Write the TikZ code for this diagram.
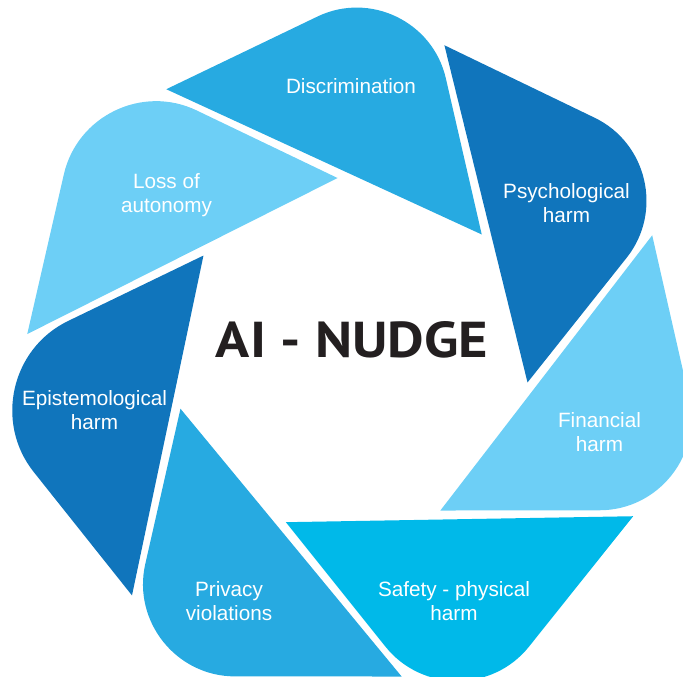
\documentclass[tikz,border=0pt]{standalone}
\usepackage{graphicx}
\usepackage{fontspec}
\setmainfont{Liberation Sans}
\newfontfamily\titlefont{PT Sans}
\usetikzlibrary{calc}
\definecolor{cMed}{HTML}{27AAE1}
\definecolor{cDark}{HTML}{1075BC}
\definecolor{cLight}{HTML}{6DCFF6}
\definecolor{cCyan}{HTML}{00B9E9}
\definecolor{cTxt}{HTML}{231F20}
\newcommand\twolines[2]{\begin{tabular}[t]{@{}c@{}}#1\\#2\end{tabular}}
\begin{document}
\begin{tikzpicture}[x=1pt,y=-1pt,
  lbl/.style={text=white,inner sep=0pt,anchor=base,font=\fontsize{20.7}{24}\selectfont},
  ttl/.style={text=cTxt,inner sep=0pt}]
\useasboundingbox (0,0) rectangle (683,677);
\clip (0,0) rectangle (683,677);
\coordinate (C) at (351,356);
\foreach \k/\col/\t in {0/cMed/114,1/cDark/115,2/cLight/115,3/cCyan/115,4/cMed/115,5/cDark/124,6/cLight/118}{
  \pgfmathsetmacro\th{-79.9+51.43*\k}
  \pgfmathsetmacro\ta{\th-44.8}
  \pgfmathsetmacro\tq{\th+37}
  \coordinate (V) at ($(C)+(\th:395)$);
  \coordinate (A) at ($(C)+(\ta:324.5)$);
  \coordinate (Q) at ($(C)+(\tq:178.5)$);
  \coordinate (T1) at ($(V)!\t pt!(A)$);
  \coordinate (T2) at ($(V)!\t pt!(Q)$);
  \coordinate (K1) at ($(T1)!0.51!(V)$);
  \coordinate (K2) at ($(T2)!0.51!(V)$);
  \fill[\col] (A) -- (T1) .. controls (K1) and (K2) .. (T2) -- (Q) -- cycle;
}
\node[lbl] (disc) at (351,94) {Discrimination};
\node[lbl] (loss) at (166.5,188) {\twolines{Loss of}{autonomy}};
\node[lbl] (psy) at (566.5,198) {\twolines{Psychological}{harm}};
\node[lbl] (epi) at (94.5,405) {\twolines{Epistemological}{harm}};
\node[lbl] (fin) at (599.5,427) {\twolines{Financial}{harm}};
\node[lbl] (priv) at (229,596) {\twolines{Privacy}{violations}};
\node[lbl] (safe) at (454,596) {\twolines{Safety - physical}{harm}};
\node[ttl] (title) at (352,340) {\resizebox{272pt}{36pt}{\titlefont\bfseries AI - NUDGE}};
\end{tikzpicture}
\end{document}
